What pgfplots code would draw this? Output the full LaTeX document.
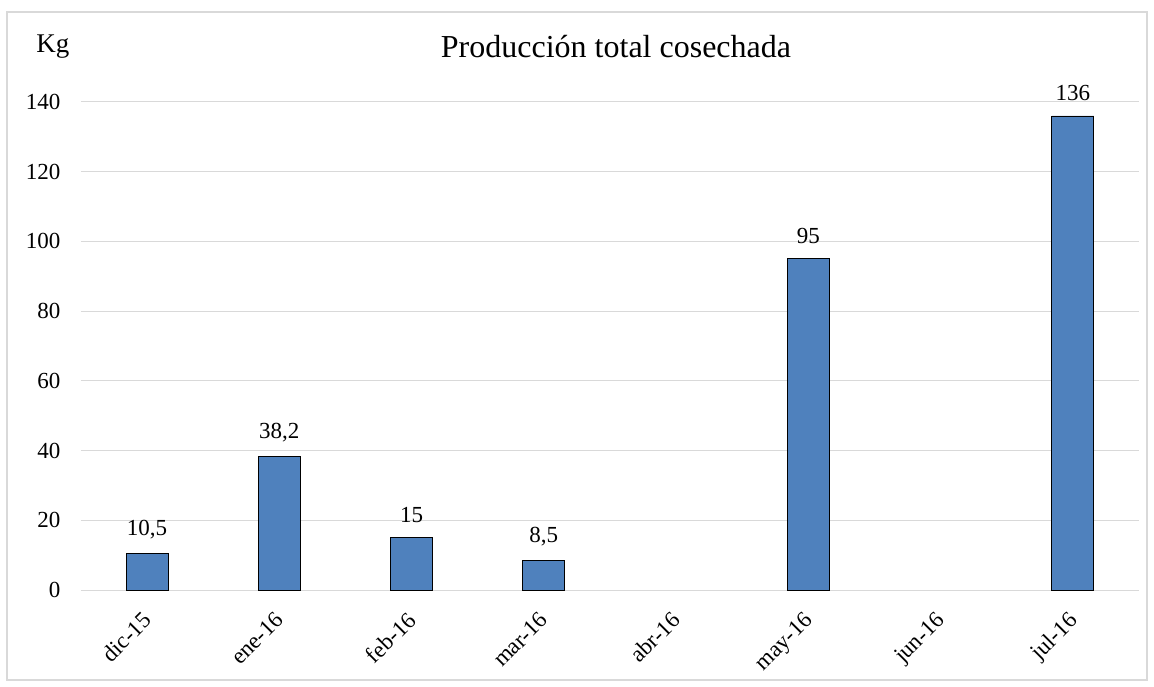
\documentclass[border=0pt]{standalone}
\usepackage{pgfplots}
\pgfplotsset{compat=1.18}
\usepackage{pgfplotstable}
\usepackage{fontspec}
\setmainfont{Liberation Serif}
\definecolor{barblue}{HTML}{4F81BD}
\definecolor{lgray}{HTML}{D9D9D9}
\pgfplotstableread{
x y lab
0 10.5 {10,5}
1 38.2 {38,2}
2 15 15
3 8.5 {8,5}
5 95 95
7 136 136
}\datatab
\begin{document}
\begin{tikzpicture}
\useasboundingbox (-81pt,-96pt) rectangle (1073pt,590pt);
\draw[lgray, line width=1.5pt] (-74pt,-90pt) rectangle (1066pt,578pt);
\begin{axis}[
  at={(0pt,0pt)}, anchor=south west,
  scale only axis, width=1058pt, height=488pt,
  xmin=-0.5, xmax=7.5, ymin=0, ymax=140,
  clip=false,
  axis x line*=bottom, axis y line*=left,
  x axis line style={lgray, line width=1pt},
  y axis line style={draw=none},
  ytick={0,20,...,140},
  ytick style={draw=none},
  ymajorgrids, grid style={lgray, line width=1pt},
  xtick={0,...,7},
  xticklabels={dic-15,ene-16,feb-16,mar-16,abr-16,may-16,jun-16,jul-16},
  xtick style={draw=none},
  extra x ticks={-0.5,0.5,1.5,2.5,3.5,4.5,5.5,6.5,7.5},
  extra x tick labels={},
  extra x tick style={grid=none, tick style={draw=lgray, line width=1pt}, major tick length=6pt, tick align=outside},
  x tick label style={rotate=45, anchor=north east, font=\fontsize{23}{23}\selectfont, yshift=-4pt, xshift=-12pt},
  y tick label style={font=\fontsize{23}{23}\selectfont, xshift=-17pt},
  /pgf/number format/assume math mode=true,
  ybar, bar width=42pt,
  nodes near coords={\pgfplotspointmeta},
  point meta=explicit symbolic,
  every node near coord/.append style={font=\fontsize{23}{23}\selectfont, anchor=south, yshift=11pt},
]
\addplot[fill=barblue, draw=black, line width=0.8pt] table[x=x, y=y, meta=lab] {\datatab};
\end{axis}
\node at (-28pt,543pt) {\fontsize{27}{27}\selectfont Kg};
\node at (535pt,543pt) {\fontsize{32}{32}\selectfont Producción total cosechada};
\end{tikzpicture}
\end{document}
